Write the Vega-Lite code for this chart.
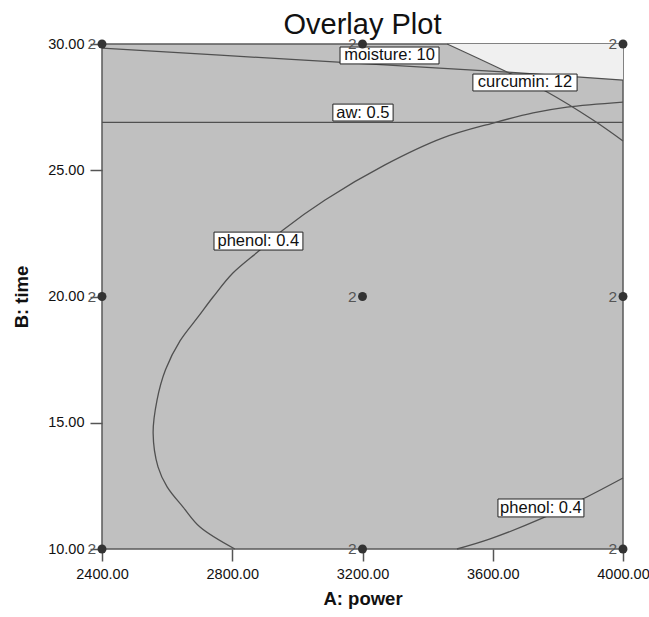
{
  "$schema": "https://vega.github.io/schema/vega-lite/v6.json",
  "width": 521,
  "height": 505,
  "autosize": "none",
  "padding": {"left": 102, "top": 44, "right": 26, "bottom": 68},
  "background": "white",
  "config": {
    "font": "Liberation Sans",
    "view": {"fill": "#c0c0c0", "stroke": "#5a5a5a", "strokeWidth": 1.5}
  },
  "title": {"text": "Overlay Plot", "fontSize": 29, "fontWeight": "normal", "color": "#111", "anchor": "middle", "offset": -4},
  "datasets": {
    "light": [
      {"x": 3460, "y": 30, "y2": 30},
      {"x": 3550, "y": 29.45, "y2": 30},
      {"x": 3644, "y": 28.89, "y2": 30},
      {"x": 3820, "y": 28.73, "y2": 30},
      {"x": 4000, "y": 28.57, "y2": 30}
    ],
    "lines": [
      {"s": "moisture", "i": 1, "x": 2400, "y": 29.84},
      {"s": "moisture", "i": 2, "x": 3008, "y": 29.37},
      {"s": "moisture", "i": 3, "x": 3644, "y": 28.89},
      {"s": "moisture", "i": 4, "x": 4000, "y": 28.57},
      {"s": "curcumin", "i": 1, "x": 3460, "y": 30},
      {"s": "curcumin", "i": 2, "x": 3644, "y": 28.89},
      {"s": "curcumin", "i": 3, "x": 3767, "y": 28.1},
      {"s": "curcumin", "i": 4, "x": 3908, "y": 26.99},
      {"s": "curcumin", "i": 5, "x": 4000, "y": 26.16},
      {"s": "aw", "i": 1, "x": 2400, "y": 26.9},
      {"s": "aw", "i": 2, "x": 4000, "y": 26.9},
      {"s": "phenol1", "i": 1, "x": 2808, "y": 10},
      {"s": "phenol1", "i": 2, "x": 2701, "y": 10.87},
      {"s": "phenol1", "i": 3, "x": 2649, "y": 11.66},
      {"s": "phenol1", "i": 4, "x": 2600, "y": 12.46},
      {"s": "phenol1", "i": 5, "x": 2572, "y": 13.25},
      {"s": "phenol1", "i": 6, "x": 2557, "y": 14.59},
      {"s": "phenol1", "i": 7, "x": 2569, "y": 15.9},
      {"s": "phenol1", "i": 8, "x": 2595, "y": 17.1},
      {"s": "phenol1", "i": 9, "x": 2640, "y": 18.25},
      {"s": "phenol1", "i": 10, "x": 2695, "y": 19.19},
      {"s": "phenol1", "i": 11, "x": 2741, "y": 19.98},
      {"s": "phenol1", "i": 12, "x": 2802, "y": 20.93},
      {"s": "phenol1", "i": 13, "x": 2885, "y": 21.84},
      {"s": "phenol1", "i": 14, "x": 2956, "y": 22.63},
      {"s": "phenol1", "i": 15, "x": 3085, "y": 23.82},
      {"s": "phenol1", "i": 16, "x": 3269, "y": 25.21},
      {"s": "phenol1", "i": 17, "x": 3447, "y": 26.28},
      {"s": "phenol1", "i": 18, "x": 3601, "y": 26.87},
      {"s": "phenol1", "i": 19, "x": 3724, "y": 27.27},
      {"s": "phenol1", "i": 20, "x": 3828, "y": 27.5},
      {"s": "phenol1", "i": 21, "x": 4000, "y": 27.7},
      {"s": "phenol2", "i": 1, "x": 3490, "y": 10},
      {"s": "phenol2", "i": 2, "x": 3592, "y": 10.4},
      {"s": "phenol2", "i": 3, "x": 3754, "y": 11.23},
      {"s": "phenol2", "i": 4, "x": 3889, "y": 12.06},
      {"s": "phenol2", "i": 5, "x": 4000, "y": 12.81}
    ],
    "labels": [
      {"t": "moisture: 10", "x1": 3131, "x2": 3435, "y1": 29.88, "y2": 29.21, "cx": 3283, "cy": 29.55},
      {"t": "curcumin: 12", "x1": 3539, "x2": 3859, "y1": 28.81, "y2": 28.14, "cx": 3699, "cy": 28.48},
      {"t": "aw: 0.5", "x1": 3109, "x2": 3294, "y1": 27.62, "y2": 26.95, "cx": 3201, "cy": 27.28},
      {"t": "phenol: 0.4", "x1": 2744, "x2": 3017, "y1": 22.55, "y2": 21.84, "cx": 2880, "cy": 22.2},
      {"t": "phenol: 0.4", "x1": 3616, "x2": 3880, "y1": 11.98, "y2": 11.27, "cx": 3748, "cy": 11.62}
    ],
    "points": [
      {"x": 2400, "y": 10, "n": "2"},
      {"x": 2400, "y": 20, "n": "2"},
      {"x": 2400, "y": 30, "n": "2"},
      {"x": 3200, "y": 10, "n": "2"},
      {"x": 3200, "y": 20, "n": "2"},
      {"x": 3200, "y": 30, "n": "2"},
      {"x": 4000, "y": 10, "n": "2"},
      {"x": 4000, "y": 20, "n": "2"},
      {"x": 4000, "y": 30, "n": "2"}
    ]
  },
  "layer": [
    {
      "data": {"name": "light"},
      "mark": {"type": "area", "color": "#f0f0f0", "opacity": 1},
      "encoding": {
        "x": {
          "field": "x", "type": "quantitative",
          "scale": {"domain": [2400, 4000], "nice": false, "zero": false},
          "axis": {
            "title": "A: power", "values": [2400, 2800, 3200, 3600, 4000], "format": ".2f",
            "grid": false, "domain": false, "tickSize": 12, "tickColor": "#555", "tickWidth": 1.5,
            "labelFontSize": 14.5, "labelColor": "#111", "labelPadding": 6, "labelFlush": false,
            "titleFontSize": 18.5, "titleFontWeight": "bold", "titleColor": "#111", "titlePadding": 9
          }
        },
        "y": {
          "field": "y", "type": "quantitative",
          "scale": {"domain": [10, 30], "nice": false, "zero": false},
          "axis": {
            "title": "B: time", "values": [10, 15, 20, 25, 30], "format": ".2f",
            "grid": false, "domain": false, "tickSize": 12, "tickColor": "#555", "tickWidth": 1.5,
            "labelFontSize": 14.5, "labelColor": "#111", "labelPadding": 6, "labelFlush": false,
            "titleFontSize": 18.5, "titleFontWeight": "bold", "titleColor": "#111", "titlePadding": 16
          }
        },
        "y2": {"field": "y2"}
      }
    },
    {
      "data": {"name": "lines"},
      "mark": {"type": "line", "color": "#505050", "strokeWidth": 1.3, "interpolate": "catmull-rom"},
      "encoding": {
        "x": {"field": "x", "type": "quantitative"},
        "y": {"field": "y", "type": "quantitative"},
        "detail": {"field": "s"},
        "order": {"field": "i", "type": "quantitative"}
      }
    },
    {
      "data": {"name": "labels"},
      "mark": {"type": "rect", "fill": "white", "stroke": "#222", "strokeWidth": 1},
      "encoding": {
        "x": {"field": "x1", "type": "quantitative"},
        "x2": {"field": "x2"},
        "y": {"field": "y1", "type": "quantitative"},
        "y2": {"field": "y2"}
      }
    },
    {
      "data": {"name": "labels"},
      "mark": {"type": "text", "fontSize": 16.5, "color": "#111", "baseline": "middle", "align": "center"},
      "encoding": {
        "x": {"field": "cx", "type": "quantitative"},
        "y": {"field": "cy", "type": "quantitative"},
        "text": {"field": "t"}
      }
    },
    {
      "data": {"name": "points"},
      "mark": {"type": "point", "filled": true, "color": "#333", "size": 80, "opacity": 1},
      "encoding": {
        "x": {"field": "x", "type": "quantitative"},
        "y": {"field": "y", "type": "quantitative"}
      }
    },
    {
      "data": {"name": "points"},
      "mark": {"type": "text", "fontSize": 15.5, "color": "#555", "align": "right", "baseline": "middle", "dx": -6},
      "encoding": {
        "x": {"field": "x", "type": "quantitative"},
        "y": {"field": "y", "type": "quantitative"},
        "text": {"field": "n"}
      }
    }
  ]
}
